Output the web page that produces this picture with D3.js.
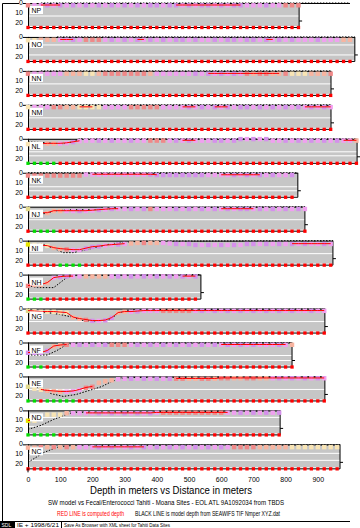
<!DOCTYPE html>
<html>
<head>
<meta charset="utf-8">
<script src="https://cdn.jsdelivr.net/npm/d3@7"></script>
<style>
  body { margin: 0; background: #fff; }
  svg { display: block; font-family: "Liberation Sans", Arial, sans-serif; }
</style>
</head>
<body>
<div id="chart"></div>
<script>
// transect names, top to bottom
const names = ["NP", "NO", "NN", "NM", "NL", "NK", "NJ", "NI", "NH", "NG", "NF", "NE", "ND", "NC"];
// surveyed length of each transect (m)
const lengths = [842, 1015, 941, 941, 1022, 838, 860, 947, 537, 922, 820, 922, 783, 969];
const stationStep = 20; // one sounding every 20 m

// class of each sounding (one letter per station)
const stationColors = [
  "sppvpvpvpv pvpvpvpvpv vpvvpvpvvp vpvvpppvpp sss",
  "yyoooppvps sspvpvpvpv pvpvvpvppv pvvpvvpvpv pvpppvpppo o",
  "spppppoooy yossssssso ppppppvpvp vpvpsossoo syyyooos",
  "ypppssooyy yyppppssss sppppvpvpv pvpvvpvpvp vpvpvpvp",
  "yooooppvpp pvpvppvpps sspvpvpppv vpvvpvpvpp vpvpvpvpvp po",
  "sssssssssp pppppppppv vvvvvvvvpp ppvpvpvpvp pv",
  "koooooppvp pvpvppvpvs pppvpvpvpv pvpvvpvpvp vpvp",
  "Yyyyoosppv vvppvpooso oppvpvvpvp vpvpvvpvpv pvpvppvp",
  "sooopvvppo ooopvpvpvp vpvpvpv",
  "kyyyyyyoos vpvvoopvpp pssssspvpv pvpvpvpvpv pvppvpp",
  "vvvvoospvp vpvssspvpv pvpvpvpvpv pvpvpvpppv po",
  "kyyoooppps soooppvpvp vpvssoosso ssoossoopv pvpvpvp",
  "Yyyyyyoppp pvpvpvpvpv psssssssss sppvpvpvpv",
  "oosososopp pvpvppvpvp vpvpvpvpvp vpssssoooo oyyyyyyyy"
];

// computed depth at each station (m)
const stationDepths = [
  [1,1,1,1,1,1,1,1,1,1, 1,1,1,1,1,1,1,1,1,1, 1,1,1,1,1,1,1,1,1,1, 1,1,1,1,1,1,1,1,1,1, 1,1,1],
  [2,2,1.5,1.5,1.5,1.5,1.5,1.5,1.5,1.5, 1.5,1.5,1.5,1.5,1.5,1.5,1.5,1.5,1.5,1.5, 1.5,1.5,1.5,1.5,1.5,1.5,1.5,1.5,1.5,1.5, 1.5,1.5,1.5,1.5,1.5,1.5,1.5,1.5,1.5,1.5, 1.5,1.5,1.5,1.5,1.5,1.5,1.5,1.5,1.5,1.5, 1.5],
  [1.5,1.5,1.5,1.5,1.5,1.5,1.5,1.5,1.5,1.5, 1.5,1.5,1.5,1.5,1.5,1.5,1.5,1.5,1.5,1.5, 1.5,1.5,1.5,1.5,1.5,1.5,1.5,1.5,1.5,1.5, 1.5,1.5,1.5,1.5,1.5,1.5,1.5,1.5,1.5,1.5, 1.5,1.5,1.5,1.5,1.5,1.5,1.5,1.5],
  [1,1,1,1,1,1,1,1,1,1, 1,1,1,1,1,1,1,1,1,1, 1,1,1,1,1,1,1,1,1,1, 1,1,1,1,1,1,1,1,1,1, 1,1,1,1,1,1,1,1],
  [4,4,4,3.5,3.5,3.5,3,2,1,0.5, 0.5,0.5,0.5,0.5,0.5,0.5,0.5,0.5,0.5,0.5, 0.5,0.5,0.5,0.5,0.5,0.5,0.5,0.5,0.5,0.5, 0.5,0.5,0.5,-1,-1,-1,-1,-1,0.5,0.5, 0.5,0.5,0.5,0.5,0.5,0.5,0.5,0.5,0.5,0.5, 0.5,0.5],
  [1.5,1.5,1.5,1.5,1.5,1.5,1.5,1.5,1.5,0.5, 0.5,0.5,0.5,0.5,0.5,0.5,0.5,0.5,0.5,0.5, 1,1,1,1,1,1,1,1,1,1, 1,1,1,1,1,1,1,1,1,1, 1,1],
  [1,5,5,5,3,3,3,3,3,3, 2.5,2,1.5,1,1,1,1,1,1,1, 1,1,1,1,1,1,1,1,1,1, 1,1,1,1,1,1,1,1,1,1, 1,1,1,1],
  [2.5,3,3.5,4,6,7,7.5,8,8,6.5, 5,4.5,3.5,3,2.5,2,1.5,1,1,1, 1,1,1.5,2,2,2,3,3,3,3, 3,3,3,3,2,2,2,2,2,2, 2,2,2,2,2,2,2,2],
  [10,9,9,7,2,1,0.5,0.5,0.5,0.5, 0.5,0.5,0.5,0.5,0.5,0.5,0.5,0.5,0.5,0.5, 0.5,0.5,0.5,0.5,0.5,0.5,0.5],
  [1,1.5,2,2,2,2.5,3,7.5,9,10, 11,11,10.5,8,3,2,2,1.5,1,1, 1,1,1,1,1,1,1,1,1,1, 1,1,1,1,1,1,1,1,1,1, 1,1,1,1,1,1,1],
  [9,9,9,7,2.5,1.5,1,1,1,1, 1,1,1,1,1,1,1,1,1,1, 1,1,1,1,1,1,1,1,1,1, 1,1,1,1,1,1,1,1,1,1, 1,1],
  [9,11,12,13,13.5,14,14,13.5,12,10, 9,5,3.5,2.5,1.5,1,1,1,1,1, 1,1,1,1,1,1,1,1,1,1, 0.5,0.5,0.5,0.5,0.5,0.5,0.5,0.5,0.5,0.5, 0.5,0.5,0.5,0.5,0.5,0.5,0.5],
  [9,9,5,3,3,3,1.5,1.5,1.5,1.5, 1.5,1.5,1.5,1.5,1.5,1.5,1.5,1.5,1.5,1.5, 1,1,1,1,1,1,1,1,1,1, 1,1,1,1,1,1,1,1,1,1],
  [2,2,1.5,1.5,1.5,1.5,1.5,1.5,1.5,1.5, 1.5,1.5,1.5,1.5,1.5,1.5,1.5,1.5,1.5,1.5, 1.5,1.5,1.5,1.5,1.5,1.5,1.5,1.5,1.5,1.5, 1.5,1.5,1.5,1.5,1.5,1.5,1.5,1.5,1.5,1.5, 1.5,1.5,1.5,1.5,1.5,1.5,1.5,1.5,1.5]
];

// stretches (m) where the red computed-depth line shows
const redSpans = [
  [[40, 100], [460, 660]],
  [[90, 140], [330, 370], [730, 770]],
  [[560, 790]],
  [[160, 200], [480, 520], [580, 620], [860, 940]],
  [[40, 160], [470, 530], [980, 1020]],
  [[200, 400], [590, 720]],
  [[20, 280], [600, 700]],
  [[20, 300], [820, 940]],
  [[0, 140], [480, 520]],
  [[0, 920]],
  [[0, 120], [600, 800]],
  [[40, 200], [460, 920]],
  [[0, 40], [180, 620]],
  [[200, 360]]
];

// model depth profile [distance, depth]
const modelDepths = [
  [[40, 0], [1000, 0]],
  [[90, 0], [1015, 0]],
  [[40, 0], [941, 0]],
  [[40, 0], [941, 0]],
  [[0, 3], [60, 4], [110, 5], [140, 3], [160, 0], [1022, 0]],
  [[0, 0], [838, 0]],
  [[20, 6], [50, 7], [90, 4], [120, 3], [220, 3], [300, 1], [860, 0]],
  [[40, 3], [80, 8], [110, 12], [140, 12], [170, 10], [220, 6], [260, 3], [300, 1.5], [360, 0.5], [947, 0]],
  [[0, 11], [30, 13], [80, 13], [100, 8], [120, 3], [140, 1], [537, 0]],
  [[40, 3], [60, 4], [100, 6], [130, 8], [170, 12], [220, 13], [255, 11], [275, 6], [295, 3], [330, 1], [922, 0.5]],
  [[0, 12.5], [60, 12.5], [90, 8], [115, 3], [140, 0.5], [820, 0]],
  [[0, 8], [40, 12], [70, 17], [110, 20], [150, 18], [190, 14], [230, 10], [260, 5], [290, 2], [320, 1], [922, 0.5]],
  [[0, 19], [40, 15], [80, 9], [120, 4], [140, 2], [783, 0.5]],
  [[0, 18], [50, 8], [90, 3], [140, 1], [969, 0.5]]
];

// reference depth lines drawn in white (m)
const whiteLines = [[13], [8, 18], [13], [13], [13, 17], [14, 18], [13], [13], [18], [13], [13, 18], [13], [7, 16], [9, 16]];

// quality flag per station along the bottom (g = ok, r = no match)
const flags = [
  "rrrrrrrrrr rrrrrrrrrr rrrrrrrrrr rrrrrrrrrr rrr",
  "rrrrrrrrrr rrrrrrrrrr rrrrrrrrrr rrrrrrrrrr rrrrrrrrrr r",
  "rrrrrrrrrr rrrrrrrrrr rrrrrrrrrr rrrrrrrrrr rrrrrrrr",
  "rrrrrrrrrr rrrrrrrrrr rrrrrrrrrr rrrrrrrrrr rrrrrrrr",
  "gggggrrrrr rrrrrrrrrr rrrrrrrrrr rrrrrrrrrr rrrrrrrrrr rr",
  "rrrrrrrrrr rrrrrrrrrr rrrrrrrrrr rrrrrrrrrr rr",
  "rggggrrrrr rrrrrrrrrr rrrrrrrrrr rrrrrrrrrr rrrr",
  "rrrrrggggr rrrrrrrrrr rrrrrrrrrr rrrrrrrrrr rrrrrrrr",
  "gggrrrrrrr rrrrrrrrrr rrrrrrr",
  "rrrrrrrrrr rrrrrrrrrr rrrrrrrrrr rrrrrrrrrr rrrrrrr",
  "gggrrrrrrr rrrrrrrrrr rrrrrrrrrr rrrrrrrrrr rr",
  "ggrgggggrr rrrrrrrrrr rrrrrrrrrr rrrrrrrrrr rrrrrrr",
  "gggggrrrrr rrrrrrrrrr rrrrrrrrrr rrrrrrrrrr",
  "rrrrrrrrrr rrrrrrrrrr rrrrrrrrrr rrrrrrrrrr rrrrrrrrr"
];

const distTicks = [0, 100, 200, 300, 400, 500, 600, 700, 800, 900];
const depthTicks = [0, 10, 20];

const classFill = {p: "#f0a0f0", v: "#d590ec", s: "#f08888", o: "#f8b4a0", y: "#f8e4b4", Y: "#e6e600", k: "#e0d88c"};
const flagFill = {r: "#ff0000", g: "#00dd00"};

const W = 360, H = 528;
const svg = d3.select("#chart").append("svg").attr("width", W).attr("height", H);

const x = d3.scaleLinear().domain([0, 1000]).range([28, 350]);
const band = d3.scaleBand().domain(names).range([3, 3 + 14 * 33.95]);
const dy = d3.scaleLinear().domain([0, 25]).range([0, 25]);
const bottomDepth = 24.5;
const sq = 4.4, fsq = 3.3;

// outer bracket on the left
svg.append("path")
  .attr("d", `M${x(0) - 9},3.5H2.5V521`)
  .attr("fill", "none").attr("stroke", "#000");

const panels = svg.selectAll("g.panel").data(names).join("g")
  .attr("class", "panel")
  .attr("transform", d => `translate(0,${band(d)})`);

panels.each(function (name, i) {
  const g = d3.select(this);
  const len = lengths[i];
  const stations = stationColors[i].replace(/ /g, "").split("")
    .map((c, k) => ({dist: k * stationStep, depth: stationDepths[i][k], c}));
  const flagList = flags[i].replace(/ /g, "").split("")
    .map((c, k) => ({dist: k * stationStep, c}));

  // grey body
  g.append("rect")
    .attr("x", x(0)).attr("y", dy(0))
    .attr("width", x(len) - x(0)).attr("height", dy(23))
    .attr("fill", "#c6c6c6");

  g.selectAll("line.white").data(whiteLines[i]).join("line")
    .attr("class", "white")
    .attr("x1", x(0)).attr("x2", x(len))
    .attr("y1", d => dy(d)).attr("y2", d => dy(d))
    .attr("stroke", "#fff").attr("stroke-width", 1);

  // frame
  const topEnd = Math.max(len, d3.max(modelDepths[i], d => d[0]));
  g.append("line")
    .attr("x1", x(0) - 5).attr("x2", x(topEnd))
    .attr("y1", dy(0) + 0.5).attr("y2", dy(0) + 0.5)
    .attr("stroke", "#000");
  g.append("line")
    .attr("x1", x(0) + 0.5).attr("x2", x(0) + 0.5)
    .attr("y1", dy(0)).attr("y2", dy(bottomDepth))
    .attr("stroke", "#000");
  g.append("line")
    .attr("x1", x(len)).attr("x2", x(len))
    .attr("y1", dy(0)).attr("y2", dy(bottomDepth))
    .attr("stroke", "#000");
  g.append("line")
    .attr("x1", x(len)).attr("x2", x(len) + 3)
    .attr("y1", dy(18)).attr("y2", dy(18))
    .attr("stroke", "#000");
  g.append("line")
    .attr("x1", x(0)).attr("x2", x(len))
    .attr("y1", dy(bottomDepth)).attr("y2", dy(bottomDepth))
    .attr("stroke", "#000");

  // depth labels
  g.selectAll("text.dep").data(depthTicks).join("text")
    .attr("class", "dep")
    .attr("x", x(0) - 5).attr("y", d => dy(d) + 2)
    .attr("text-anchor", "end").attr("font-size", 7)
    .text(d => d);

  // model depth (black)
  g.append("path")
    .datum(modelDepths[i])
    .attr("d", d3.line().x(d => x(d[0])).y(d => dy(d[1])))
    .attr("fill", "none").attr("stroke", "#000")
    .attr("stroke-dasharray", "1.5,1.5");

  // soundings
  g.selectAll("rect.st").data(stations).join("rect")
    .attr("class", "st")
    .attr("x", d => x(d.dist) - sq / 2).attr("y", d => dy(d.depth) + 1.3 - sq / 2)
    .attr("width", sq).attr("height", sq)
    .attr("fill", d => classFill[d.c]);

  // computed depth (red)
  redSpans[i].forEach(span => {
    const pts = stations.filter(d => d.dist >= span[0] && d.dist <= span[1]);
    g.append("path")
      .datum(pts)
      .attr("d", d3.line().x(d => x(d.dist)).y(d => dy(d.depth) + 1))
      .attr("fill", "none").attr("stroke", "#ff0000");
  });

  // flags along the bottom
  g.selectAll("rect.fl").data(flagList).join("rect")
    .attr("class", "fl")
    .attr("x", d => x(d.dist) - fsq / 2).attr("y", dy(bottomDepth) - fsq / 2)
    .attr("width", fsq).attr("height", fsq)
    .attr("fill", d => flagFill[d.c]);

  // name tag
  g.append("rect")
    .attr("x", x(0) + 2).attr("y", dy(3))
    .attr("width", 13).attr("height", 8)
    .attr("fill", "#fff");
  g.append("text")
    .attr("x", x(0) + 3.5).attr("y", dy(10))
    .attr("font-size", 7)
    .text(name);
});

// distance axis
const axisY = band(names[names.length - 1]) + 30;
const ax = svg.append("g")
  .attr("transform", `translate(0,${axisY})`)
  .call(d3.axisBottom(x).tickValues(distTicks).tickSize(0).tickPadding(3));
ax.select(".domain").remove();
ax.selectAll("text").attr("font-size", 7).attr("font-family", "Liberation Sans, Arial, sans-serif").attr("fill", "#000");
svg.append("line")
  .attr("x1", x(0)).attr("x2", x(0))
  .attr("y1", axisY - 6).attr("y2", axisY - 2)
  .attr("stroke", "#000");

svg.append("text")
  .attr("x", 171).attr("y", 494)
  .attr("text-anchor", "middle").attr("font-size", 10)
  .attr("textLength", 162).attr("lengthAdjust", "spacingAndGlyphs")
  .text("Depth in meters vs Distance in meters");

svg.append("text")
  .attr("x", 48).attr("y", 505)
  .attr("font-size", 6.5)
  .attr("textLength", 236).attr("lengthAdjust", "spacingAndGlyphs")
  .text("SW model vs Fecal/Enterococci Tahiti - Moana Sites - EOL ATL 9A1092034 from TBDS");

svg.append("text")
  .attr("x", 57).attr("y", 516)
  .attr("font-size", 6.5).attr("fill", "#ff0000")
  .attr("textLength", 67).attr("lengthAdjust", "spacingAndGlyphs")
  .text("RED LINE is computed depth");
svg.append("text")
  .attr("x", 135).attr("y", 516)
  .attr("font-size", 6.5)
  .attr("textLength", 145).attr("lengthAdjust", "spacingAndGlyphs")
  .text("BLACK LINE is model depth from SEAWIFS TIF Nmper XYZ.dat");

// footer strip
svg.append("rect").attr("x", 0).attr("y", 521).attr("width", 15).attr("height", 7).attr("fill", "#000");
svg.append("text").attr("x", 1.5).attr("y", 527).attr("font-size", 5).attr("fill", "#fff").text("SDL");
svg.append("text").attr("x", 17).attr("y", 527).attr("font-size", 4.5)
  .attr("textLength", 42).attr("lengthAdjust", "spacingAndGlyphs")
  .text("IE + 1998/6/21");
svg.append("line").attr("x1", 61.5).attr("x2", 61.5).attr("y1", 522).attr("y2", 528).attr("stroke", "#000");
svg.append("text").attr("x", 64).attr("y", 527).attr("font-size", 4.5)
  .attr("textLength", 106).attr("lengthAdjust", "spacingAndGlyphs")
  .text("Save As Browser with XML sheet for Tahiti Data Sites");
svg.append("line").attr("x1", 0).attr("x2", 350).attr("y1", 521.5).attr("y2", 521.5).attr("stroke", "#000");
</script>
</body>
</html>
